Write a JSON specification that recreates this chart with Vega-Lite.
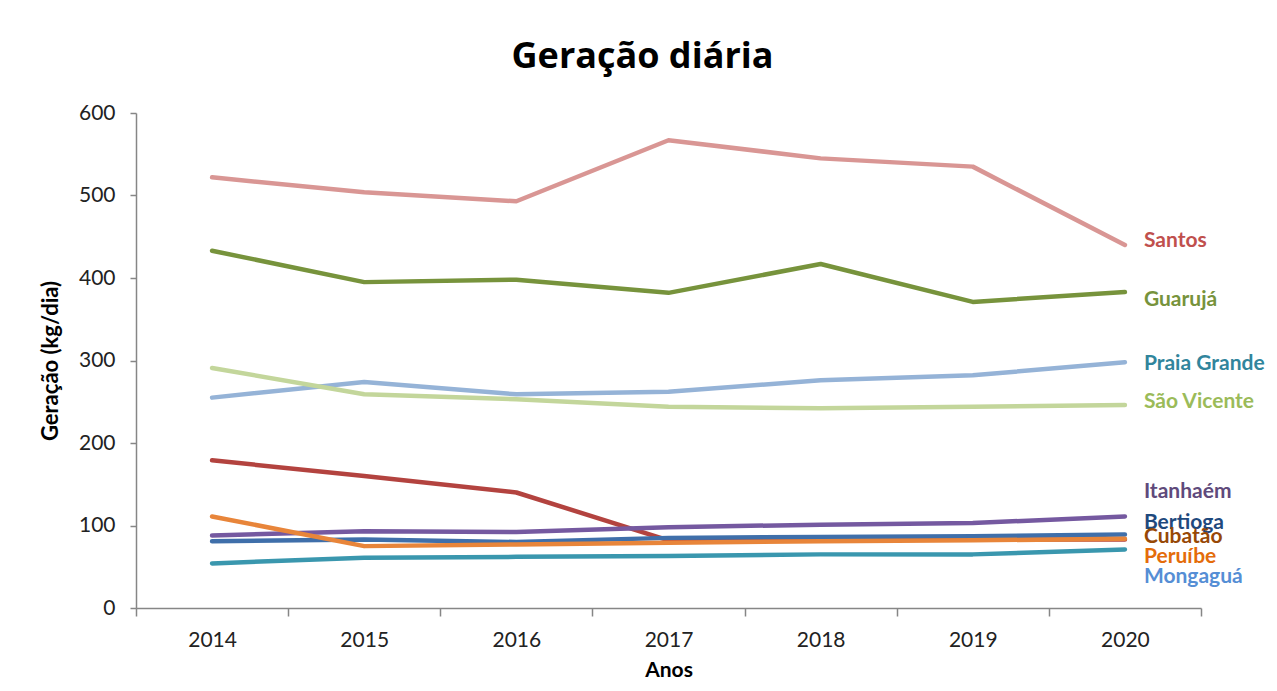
{
  "$schema": "https://vega.github.io/schema/vega-lite/v6.json",
  "width": 1065,
  "height": 495,
  "autosize": {"type": "none"},
  "padding": {"left": 136, "top": 113, "right": 76, "bottom": 83},
  "background": "white",
  "config": {"view": {"stroke": null}, "font": "Lato"},
  "title": {"text": "Geração diária", "fontSize": 36, "font": "Open Sans", "fontWeight": "bold", "color": "#000000", "anchor": "middle", "frame": "group", "dx": -26, "offset": 26},
  "datasets": {
    "series": [
      {"city": "Santos", "ano": "2014", "valor": 522},
      {"city": "Santos", "ano": "2015", "valor": 504},
      {"city": "Santos", "ano": "2016", "valor": 493},
      {"city": "Santos", "ano": "2017", "valor": 567},
      {"city": "Santos", "ano": "2018", "valor": 545},
      {"city": "Santos", "ano": "2019", "valor": 535},
      {"city": "Santos", "ano": "2020", "valor": 440},
      {"city": "Guarujá", "ano": "2014", "valor": 433},
      {"city": "Guarujá", "ano": "2015", "valor": 395},
      {"city": "Guarujá", "ano": "2016", "valor": 398},
      {"city": "Guarujá", "ano": "2017", "valor": 382},
      {"city": "Guarujá", "ano": "2018", "valor": 417},
      {"city": "Guarujá", "ano": "2019", "valor": 371},
      {"city": "Guarujá", "ano": "2020", "valor": 383},
      {"city": "Praia Grande", "ano": "2014", "valor": 255},
      {"city": "Praia Grande", "ano": "2015", "valor": 274},
      {"city": "Praia Grande", "ano": "2016", "valor": 259},
      {"city": "Praia Grande", "ano": "2017", "valor": 262},
      {"city": "Praia Grande", "ano": "2018", "valor": 276},
      {"city": "Praia Grande", "ano": "2019", "valor": 282},
      {"city": "Praia Grande", "ano": "2020", "valor": 298},
      {"city": "São Vicente", "ano": "2014", "valor": 291},
      {"city": "São Vicente", "ano": "2015", "valor": 259},
      {"city": "São Vicente", "ano": "2016", "valor": 253},
      {"city": "São Vicente", "ano": "2017", "valor": 244},
      {"city": "São Vicente", "ano": "2018", "valor": 242},
      {"city": "São Vicente", "ano": "2019", "valor": 244},
      {"city": "São Vicente", "ano": "2020", "valor": 246},
      {"city": "Cubatão", "ano": "2014", "valor": 179},
      {"city": "Cubatão", "ano": "2015", "valor": 160},
      {"city": "Cubatão", "ano": "2016", "valor": 140},
      {"city": "Cubatão", "ano": "2017", "valor": 82},
      {"city": "Cubatão", "ano": "2018", "valor": 82},
      {"city": "Cubatão", "ano": "2019", "valor": 83},
      {"city": "Cubatão", "ano": "2020", "valor": 83},
      {"city": "Mongaguá", "ano": "2014", "valor": 54},
      {"city": "Mongaguá", "ano": "2015", "valor": 61},
      {"city": "Mongaguá", "ano": "2016", "valor": 62},
      {"city": "Mongaguá", "ano": "2017", "valor": 63},
      {"city": "Mongaguá", "ano": "2018", "valor": 65},
      {"city": "Mongaguá", "ano": "2019", "valor": 65},
      {"city": "Mongaguá", "ano": "2020", "valor": 71},
      {"city": "Bertioga", "ano": "2014", "valor": 81},
      {"city": "Bertioga", "ano": "2015", "valor": 83},
      {"city": "Bertioga", "ano": "2016", "valor": 80},
      {"city": "Bertioga", "ano": "2017", "valor": 85},
      {"city": "Bertioga", "ano": "2018", "valor": 86},
      {"city": "Bertioga", "ano": "2019", "valor": 87},
      {"city": "Bertioga", "ano": "2020", "valor": 89},
      {"city": "Itanhaém", "ano": "2014", "valor": 88},
      {"city": "Itanhaém", "ano": "2015", "valor": 93},
      {"city": "Itanhaém", "ano": "2016", "valor": 92},
      {"city": "Itanhaém", "ano": "2017", "valor": 98},
      {"city": "Itanhaém", "ano": "2018", "valor": 101},
      {"city": "Itanhaém", "ano": "2019", "valor": 103},
      {"city": "Itanhaém", "ano": "2020", "valor": 111},
      {"city": "Peruíbe", "ano": "2014", "valor": 111},
      {"city": "Peruíbe", "ano": "2015", "valor": 75},
      {"city": "Peruíbe", "ano": "2016", "valor": 77},
      {"city": "Peruíbe", "ano": "2017", "valor": 79},
      {"city": "Peruíbe", "ano": "2018", "valor": 81},
      {"city": "Peruíbe", "ano": "2019", "valor": 82},
      {"city": "Peruíbe", "ano": "2020", "valor": 84}
    ],
    "labels": [
      {"city": "Santos", "ano": "2020", "pos": 445},
      {"city": "Guarujá", "ano": "2020", "pos": 373},
      {"city": "Praia Grande", "ano": "2020", "pos": 296},
      {"city": "São Vicente", "ano": "2020", "pos": 250},
      {"city": "Itanhaém", "ano": "2020", "pos": 141},
      {"city": "Bertioga", "ano": "2020", "pos": 103},
      {"city": "Cubatão", "ano": "2020", "pos": 86},
      {"city": "Peruíbe", "ano": "2020", "pos": 62},
      {"city": "Mongaguá", "ano": "2020", "pos": 38}
    ]
  },
  "resolve": {"scale": {"color": "independent"}},
  "layer": [
    {
      "data": {"name": "series"},
      "mark": {"type": "line", "strokeWidth": 4.5, "strokeCap": "round", "strokeJoin": "round"},
      "encoding": {
        "x": {"field": "ano", "type": "ordinal", "scale": {"type": "band", "paddingInner": 0, "paddingOuter": 0},
          "axis": {"title": "Anos", "titleFontSize": 21, "titleFontWeight": "bold", "titleColor": "#000000", "titlePadding": 9,
            "labelAngle": 0, "labelFontSize": 21, "labelColor": "#222222", "labelPadding": 13, "tickBand": "extent", "tickSize": 8,
            "tickColor": "#868686", "domainColor": "#868686", "domainWidth": 1.5, "tickWidth": 1.5, "grid": false}},
        "y": {"field": "valor", "type": "quantitative", "scale": {"domain": [0, 600]},
          "axis": {"title": "Geração (kg/dia)", "titleFontSize": 22, "titleFontWeight": "bold", "titleColor": "#000000", "titlePadding": 16,
            "values": [0, 100, 200, 300, 400, 500, 600], "labelFontSize": 21, "labelColor": "#222222", "labelPadding": 15, "tickSize": 6,
            "tickColor": "#868686", "domainColor": "#868686", "domainWidth": 1.5, "tickWidth": 1.5, "grid": false}},
        "color": {"field": "city", "type": "nominal", "legend": null,
          "scale": {"domain": ["Santos", "Guarujá", "Praia Grande", "São Vicente", "Cubatão", "Mongaguá", "Bertioga", "Itanhaém", "Peruíbe"],
            "range": ["#D99694", "#77933C", "#95B3D7", "#C3D69B", "#B3433F", "#3A97AE", "#3F6FAA", "#7559A0", "#E8853A"]}},
        "order": {"field": "ano", "type": "ordinal"}
      }
    },
    {
      "data": {"name": "labels"},
      "mark": {"type": "text", "align": "left", "baseline": "middle", "dx": 19, "fontSize": 21, "fontWeight": "bold", "font": "Lato"},
      "encoding": {
        "x": {"field": "ano", "type": "ordinal"},
        "y": {"field": "pos", "type": "quantitative"},
        "text": {"field": "city"},
        "color": {"field": "city", "type": "nominal", "legend": null,
          "scale": {"domain": ["Santos", "Guarujá", "Praia Grande", "São Vicente", "Itanhaém", "Bertioga", "Cubatão", "Peruíbe", "Mongaguá"],
            "range": ["#C0504D", "#77933C", "#31859C", "#9BBB59", "#604A7B", "#1F497D", "#974806", "#E46C0A", "#558ED5"]}}
      }
    }
  ]
}
